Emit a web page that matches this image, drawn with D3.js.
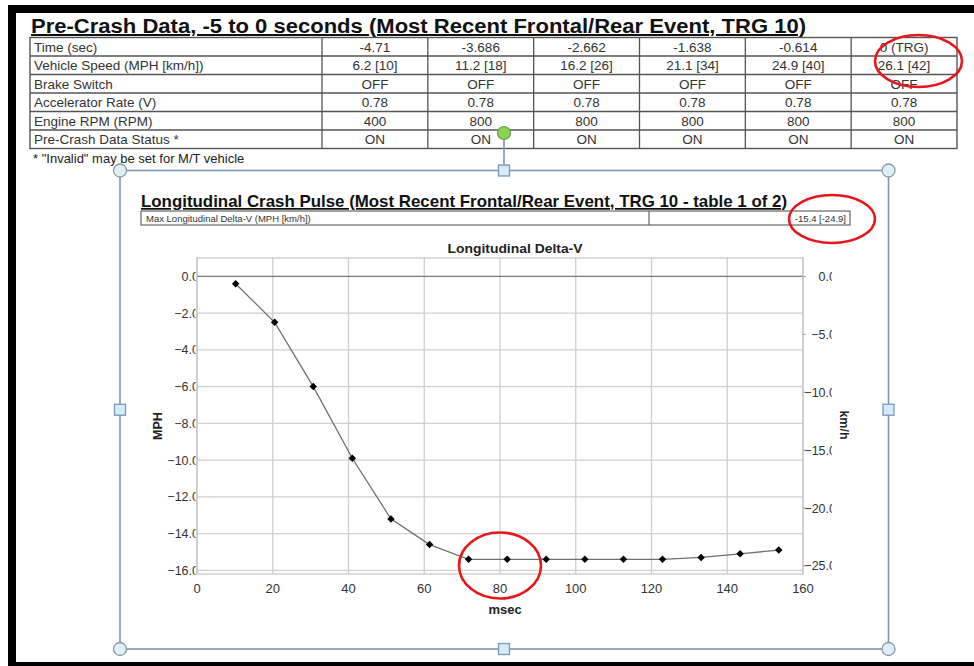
<!DOCTYPE html>
<html>
<head>
<meta charset="utf-8">
<script src="https://cdn.jsdelivr.net/npm/d3@7"></script>
<style>
  body { margin: 0; background: #fff; }
  svg { display: block; font-family: "Liberation Sans", Arial, sans-serif; }
</style>
</head>
<body>
<div id="chart"></div>
<script>
// Pre-crash table (-5 to 0 s)
const preRowLabels = ["Time (sec)", "Vehicle Speed (MPH [km/h])", "Brake Switch",
  "Accelerator Rate (V)", "Engine RPM (RPM)", "Pre-Crash Data Status *"];
const preTimes = ["-4.71", "-3.686", "-2.662", "-1.638", "-0.614", "0 (TRG)"];
const preSpeed = ["6.2 [10]", "11.2 [18]", "16.2 [26]", "21.1 [34]", "24.9 [40]", "26.1 [42]"];
const preBrake = ["OFF", "OFF", "OFF", "OFF", "OFF", "OFF"];
const preAccel = ["0.78", "0.78", "0.78", "0.78", "0.78", "0.78"];
const preRpm = ["400", "800", "800", "800", "800", "800"];
const preStatus = ["ON", "ON", "ON", "ON", "ON", "ON"];

// Longitudinal crash pulse
const pulseMsec = [10.2, 20.5, 30.7, 41.0, 51.2, 61.4, 71.7, 81.9, 92.2, 102.4, 112.6, 122.9, 133.1, 143.4, 153.6];
const pulseMph = [-0.4, -2.5, -6.0, -9.9, -13.2, -14.6, -15.4, -15.4, -15.4, -15.4, -15.4, -15.4, -15.3, -15.1, -14.9];
const msecTicks = [0, 20, 40, 60, 80, 100, 120, 140, 160];
const mphTicks = [0, -2, -4, -6, -8, -10, -12, -14, -16];
const kmhTicks = [0, -5, -10, -15, -20, -25];
const maxDeltaLabel = "Max Longitudinal Delta-V (MPH [km/h])";
const maxDeltaValue = "-15.4 [-24.9]";

const W = 974, H = 666;
const svg = d3.select("#chart").append("svg").attr("width", W).attr("height", H);
svg.append("rect").attr("width", W).attr("height", H).attr("fill", "#fff");

// black screenshot frame
svg.append("rect").attr("x", 8).attr("y", 5).attr("width", W - 8).attr("height", 8).attr("fill", "#000");
svg.append("rect").attr("x", 8).attr("y", 5).attr("width", 8).attr("height", H - 5).attr("fill", "#000");
svg.append("rect").attr("x", 8).attr("y", 662).attr("width", W - 8).attr("height", 4).attr("fill", "#000");

// ---- top table ----
svg.append("text")
  .attr("x", 31).attr("y", 33)
  .attr("font-size", 20).attr("font-weight", "bold").attr("fill", "#111")
  .attr("text-decoration", "underline")
  .attr("textLength", 775).attr("lengthAdjust", "spacingAndGlyphs")
  .text("Pre-Crash Data, -5 to 0 seconds (Most Recent Frontal/Rear Event, TRG 10)");

const tableRows = [preTimes, preSpeed, preBrake, preAccel, preRpm, preStatus];
const rowY = d3.scaleBand().domain(d3.range(tableRows.length)).range([37.5, 148.5]);
const colX = d3.scaleBand().domain(d3.range(preTimes.length)).range([322, 957]);
const tbl = svg.append("g").attr("font-size", 13.5).attr("fill", "#333");

tbl.append("rect")
  .attr("x", 30).attr("y", rowY.range()[0])
  .attr("width", 957 - 30).attr("height", rowY.range()[1] - rowY.range()[0])
  .attr("fill", "none").attr("stroke", "#555").attr("stroke-width", 1.4);

d3.range(1, tableRows.length).forEach(i => {
  tbl.append("line").attr("x1", 30).attr("x2", 957)
    .attr("y1", rowY(i)).attr("y2", rowY(i))
    .attr("stroke", "#555").attr("stroke-width", 1.3);
});
d3.range(preTimes.length).forEach(j => {
  tbl.append("line").attr("x1", colX(j)).attr("x2", colX(j))
    .attr("y1", rowY.range()[0]).attr("y2", rowY.range()[1])
    .attr("stroke", "#555").attr("stroke-width", 1.3);
});

tableRows.forEach((vals, i) => {
  const ty = rowY(i) + rowY.bandwidth() / 2 + 5;
  tbl.append("text").attr("x", 34).attr("y", ty).text(preRowLabels[i]);
  vals.forEach((v, j) => {
    tbl.append("text")
      .attr("x", colX(j) + colX.bandwidth() / 2).attr("y", ty)
      .attr("text-anchor", "middle")
      .text(v);
  });
});

svg.append("text")
  .attr("x", 33).attr("y", 163)
  .attr("font-size", 13).attr("fill", "#222")
  .text("* \"Invalid\" may be set for M/T vehicle");

// ---- crash pulse chart ----
svg.append("text")
  .attr("x", 141).attr("y", 207)
  .attr("font-size", 17).attr("font-weight", "bold").attr("fill", "#111")
  .attr("text-decoration", "underline")
  .attr("textLength", 646).attr("lengthAdjust", "spacingAndGlyphs")
  .text("Longitudinal Crash Pulse (Most Recent Frontal/Rear Event, TRG 10 - table 1 of 2)");

// max delta-V mini table
svg.append("rect")
  .attr("x", 141).attr("y", 211).attr("width", 709).attr("height", 14)
  .attr("fill", "none").attr("stroke", "#666").attr("stroke-width", 1.2);
svg.append("line")
  .attr("x1", 649).attr("x2", 649).attr("y1", 211).attr("y2", 225)
  .attr("stroke", "#666").attr("stroke-width", 1.2);
svg.append("text")
  .attr("x", 146).attr("y", 222).attr("font-size", 9.5).attr("fill", "#333")
  .text(maxDeltaLabel);
svg.append("text")
  .attr("x", 846).attr("y", 222).attr("font-size", 9.5).attr("fill", "#333")
  .attr("text-anchor", "end")
  .text(maxDeltaValue);

svg.append("text")
  .attr("x", 515).attr("y", 252.5)
  .attr("text-anchor", "middle")
  .attr("font-size", 13.5).attr("font-weight", "bold").attr("fill", "#222")
  .attr("textLength", 135).attr("lengthAdjust", "spacingAndGlyphs")
  .text("Longitudinal Delta-V");

const x = d3.scaleLinear().domain([0, 160]).range([197, 803]);
const y = d3.scaleLinear().domain([-16.2, 1.0]).range([574, 258]);
const yKmh = d3.scaleLinear().domain([-25.7, 1.6]).range([574, 258]);

const plot = svg.append("g");

// gridlines
plot.selectAll(".vgrid").data(msecTicks).join("line")
  .attr("x1", d => x(d)).attr("x2", d => x(d))
  .attr("y1", y.range()[1]).attr("y2", y.range()[0])
  .attr("stroke", "#cfcfcf").attr("stroke-width", 1.3);
plot.selectAll(".hgrid").data(mphTicks).join("line")
  .attr("x1", x.range()[0]).attr("x2", x.range()[1])
  .attr("y1", d => y(d)).attr("y2", d => y(d))
  .attr("stroke", d => d === 0 ? "#7a7a7a" : "#cfcfcf")
  .attr("stroke-width", d => d === 0 ? 1.2 : 1.3);
plot.append("rect")
  .attr("x", x.range()[0]).attr("y", y.range()[1])
  .attr("width", x.range()[1] - x.range()[0]).attr("height", y.range()[0] - y.range()[1])
  .attr("fill", "none").attr("stroke", "#c4c4c4").attr("stroke-width", 1.2);

// right axis tick marks
plot.selectAll(".rtick").data(kmhTicks).join("line")
  .attr("x1", x.range()[1]).attr("x2", x.range()[1] + 3)
  .attr("y1", d => yKmh(d)).attr("y2", d => yKmh(d))
  .attr("stroke", "#aaa");

// clipped tick labels (cut off as in the source export)
const defs = svg.append("defs");
defs.append("clipPath").attr("id", "clipL")
  .append("rect").attr("x", 140).attr("y", 250).attr("width", 55.5).attr("height", 340);
defs.append("clipPath").attr("id", "clipR")
  .append("rect").attr("x", 804).attr("y", 250).attr("width", 28).attr("height", 340);

const fmt = d3.format(".1f");
svg.append("g").attr("clip-path", "url(#clipL)")
  .selectAll("text").data(mphTicks).join("text")
  .attr("x", 199).attr("y", d => y(d) + 4.5)
  .attr("text-anchor", "end")
  .attr("font-size", 12.5).attr("fill", "#333")
  .text(d => fmt(d));
svg.append("g").attr("clip-path", "url(#clipR)")
  .selectAll("text").data(kmhTicks).join("text")
  .attr("x", 836).attr("y", d => yKmh(d) + 4.5)
  .attr("text-anchor", "end")
  .attr("font-size", 12.5).attr("fill", "#333")
  .text(d => fmt(d));

svg.append("g")
  .selectAll("text").data(msecTicks).join("text")
  .attr("x", d => x(d)).attr("y", 592.5)
  .attr("text-anchor", "middle")
  .attr("font-size", 13).attr("fill", "#333")
  .text(d => d);

// axis titles
svg.append("text")
  .attr("x", 505).attr("y", 614)
  .attr("text-anchor", "middle")
  .attr("font-size", 13).attr("font-weight", "bold").attr("fill", "#222")
  .text("msec");
svg.append("text")
  .attr("transform", "translate(162,426) rotate(-90)")
  .attr("text-anchor", "middle")
  .attr("font-size", 12.5).attr("font-weight", "bold").attr("fill", "#222")
  .text("MPH");
svg.append("text")
  .attr("transform", "translate(840,425) rotate(90)")
  .attr("text-anchor", "middle")
  .attr("font-size", 12.5).attr("font-weight", "bold").attr("fill", "#222")
  .text("km/h");

// series
const pts = pulseMsec.map((m, i) => ({ m, v: pulseMph[i] }));
plot.append("path")
  .datum(pts)
  .attr("fill", "none").attr("stroke", "#707070").attr("stroke-width", 1.3)
  .attr("d", d3.line().x(d => x(d.m)).y(d => y(d.v)));
// square markers turned 45deg -> compact diamonds
plot.selectAll(".pt").data(pts).join("path")
  .attr("transform", d => `translate(${x(d.m)},${y(d.v)}) rotate(45)`)
  .attr("d", d3.symbol(d3.symbolSquare, 28))
  .attr("fill", "#000");

// ---- selection frame + handles ----
const frame = { x0: 120, y0: 170.5, x1: 888.5, y1: 649 };
const midX = 504, midY = (frame.y0 + frame.y1) / 2;
const blue = "#7d97b6";
svg.append("rect")
  .attr("x", frame.x0).attr("y", frame.y0)
  .attr("width", frame.x1 - frame.x0).attr("height", frame.y1 - frame.y0)
  .attr("fill", "none").attr("stroke", blue).attr("stroke-width", 1.6);
svg.append("line")
  .attr("x1", midX).attr("x2", midX).attr("y1", 139).attr("y2", frame.y0)
  .attr("stroke", blue).attr("stroke-width", 1.6);
svg.append("circle")
  .attr("cx", midX).attr("cy", 133).attr("r", 6.5)
  .attr("fill", "#86d456").attr("stroke", "#6c9c52").attr("stroke-width", 1.2);

const corners = [[frame.x0, frame.y0], [frame.x1, frame.y0], [frame.x0, frame.y1], [frame.x1, frame.y1]];
svg.selectAll(".corner").data(corners).join("circle")
  .attr("cx", d => d[0]).attr("cy", d => d[1]).attr("r", 6.5)
  .attr("fill", "#dcf0f6").attr("stroke", "#8a98a6").attr("stroke-width", 1.3);
const sides = [[midX, frame.y0], [midX, frame.y1], [frame.x0, midY], [frame.x1, midY]];
svg.selectAll(".side").data(sides).join("rect")
  .attr("x", d => d[0] - 5.5).attr("y", d => d[1] - 5.5)
  .attr("width", 11).attr("height", 11)
  .attr("fill", "#d3ecf7").attr("stroke", "#7a98b8").attr("stroke-width", 1.3);

// ---- red annotation ellipses ----
const marks = [
  { cx: 918.5, cy: 61, rx: 43.5, ry: 26 },
  { cx: 832, cy: 219, rx: 43, ry: 24 },
  { cx: x(80), cy: 565.5, rx: 41, ry: 33 }
];
svg.selectAll(".ring").data(marks).join("ellipse")
  .attr("cx", d => d.cx).attr("cy", d => d.cy)
  .attr("rx", d => d.rx).attr("ry", d => d.ry)
  .attr("fill", "none").attr("stroke", "#e8161c").attr("stroke-width", 2.6);
</script>
</body>
</html>
